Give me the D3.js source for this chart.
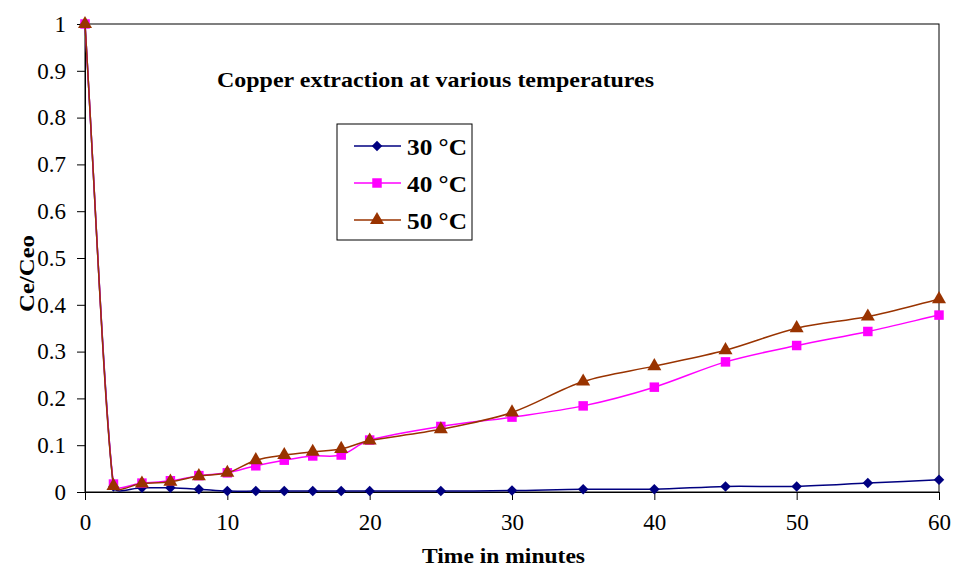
<!DOCTYPE html>
<html>
<head>
<meta charset="utf-8">
<script src="https://cdn.jsdelivr.net/npm/d3@7"></script>
<style>
  body { margin: 0; background: #fff; }
</style>
</head>
<body>
<script>
var width = 955,
    height = 570,
    serif = "'Liberation Serif', 'Times New Roman', serif";

// minutes
var times = [0, 2, 4, 6, 8, 10, 12, 14, 16, 18, 20, 25, 30, 35, 40, 45, 50, 55, 60];

// Ce/Ceo at each temperature
var t30 = [1, 0.012, 0.009, 0.009, 0.006, 0.002, 0.002, 0.002, 0.002, 0.002, 0.002, 0.002, 0.003, 0.006, 0.006, 0.012, 0.012, 0.019, 0.026];
var t40 = [1, 0.017, 0.019, 0.024, 0.035, 0.041, 0.056, 0.068, 0.077, 0.079, 0.111, 0.140, 0.160, 0.184, 0.224, 0.278, 0.313, 0.343, 0.378];
var t50 = [1, 0.013, 0.018, 0.022, 0.034, 0.041, 0.068, 0.079, 0.086, 0.092, 0.110, 0.134, 0.170, 0.236, 0.269, 0.303, 0.350, 0.375, 0.412];

var xTicks = [0, 10, 20, 30, 40, 50, 60];
var yTicks = [0, 0.1, 0.2, 0.3, 0.4, 0.5, 0.6, 0.7, 0.8, 0.9, 1];

var series = [
  { name: "30 \u00b0C", values: t30, color: "#000080", marker: d3.symbolSquare, size: 55, rot: 45 },
  { name: "40 \u00b0C", values: t40, color: "#ff00ff", marker: d3.symbolSquare, size: 90, rot: 0 },
  { name: "50 \u00b0C", values: t50, color: "#993300", marker: d3.symbolTriangle, size: 85, rot: 0 }
];

var pLeft = 85, pRight = 939, pTop = 24, pBottom = 492;

var x = d3.scaleLinear().domain([0, 60]).range([pLeft, pRight]);
var y = d3.scaleLinear().domain([0, 1]).range([pBottom, pTop]);

var svg = d3.select("body").append("svg")
    .attr("width", width)
    .attr("height", height);

// plot frame
svg.append("rect")
    .attr("x", pLeft)
    .attr("y", pTop)
    .attr("width", pRight - pLeft)
    .attr("height", pBottom - pTop)
    .attr("fill", "none")
    .attr("stroke", "#000")
    .attr("stroke-width", 1);

svg.append("g")
    .attr("transform", "translate(" + pLeft + ",0)")
    .call(d3.axisLeft(y).tickValues(yTicks).tickSize(8).tickPadding(11)
      .tickFormat(function(d) { return d === 0 || d === 1 ? d3.format("d")(d) : d3.format(".1f")(d); }));

svg.append("g")
    .attr("transform", "translate(0," + pBottom + ")")
    .call(d3.axisBottom(x).tickValues(xTicks).tickSize(8).tickPadding(14));

svg.selectAll(".tick text")
    .style("font-family", serif)
    .style("font-size", "23px")
    .attr("fill", "#000");
svg.selectAll(".domain, .tick line").attr("stroke", "#000");

// spreadsheet-style smoothed line: Catmull-Rom tangents, capped by segment length
function smooth(pts) {
  var n = pts.length, p = d3.path();
  function tan(i) {
    var a = pts[Math.max(i - 1, 0)], b = pts[Math.min(i + 1, n - 1)];
    var f = (i === 0 || i === n - 1) ? 1 / 3 : 1 / 6;
    return [(b[0] - a[0]) * f, (b[1] - a[1]) * f];
  }
  function cap(t, len) {
    var m = Math.hypot(t[0], t[1]), lim = len / 3;
    return m > lim ? [t[0] * lim / m, t[1] * lim / m] : t;
  }
  p.moveTo(pts[0][0], pts[0][1]);
  for (var i = 0; i < n - 1; i++) {
    var a = pts[i], b = pts[i + 1];
    var len = Math.hypot(b[0] - a[0], b[1] - a[1]);
    var t1 = cap(tan(i), len), t2 = cap(tan(i + 1), len);
    p.bezierCurveTo(a[0] + t1[0], a[1] + t1[1], b[0] - t2[0], b[1] - t2[1], b[0], b[1]);
  }
  return p.toString();
}

series.forEach(function(s) {
  var pts = times.map(function(t, i) { return [x(t), y(s.values[i])]; });
  svg.append("path")
      .attr("d", smooth(pts))
      .attr("fill", "none")
      .attr("stroke", s.color)
      .attr("stroke-width", 1.5);
  svg.append("g").selectAll("path")
      .data(times.map(function(t, i) { return [t, s.values[i]]; }))
      .enter().append("path")
      .attr("transform", function(d) { return "translate(" + x(d[0]) + "," + y(d[1]) + ") rotate(" + s.rot + ")"; })
      .attr("d", d3.symbol().type(s.marker).size(s.size))
      .attr("fill", s.color);
});

// title
svg.append("text")
    .attr("x", 217)
    .attr("y", 87)
    .style("font-family", serif)
    .style("font-size", "21px")
    .style("font-weight", "bold")
    .attr("textLength", 437)
    .attr("lengthAdjust", "spacingAndGlyphs")
    .text("Copper extraction at various temperatures");

// axis titles
svg.append("text")
    .attr("x", 422)
    .attr("y", 563)
    .style("font-family", serif)
    .style("font-size", "22px")
    .style("font-weight", "bold")
    .attr("textLength", 163)
    .attr("lengthAdjust", "spacingAndGlyphs")
    .text("Time in minutes");

svg.append("text")
    .attr("transform", "translate(34,312) rotate(-90)")
    .style("font-family", serif)
    .style("font-size", "22px")
    .style("font-weight", "bold")
    .attr("textLength", 77)
    .attr("lengthAdjust", "spacingAndGlyphs")
    .text("Ce/Ceo");

// legend
var legend = svg.append("g").attr("transform", "translate(337,124)");
legend.append("rect")
    .attr("width", 135)
    .attr("height", 116)
    .attr("fill", "#fff")
    .attr("stroke", "#000");

var item = legend.selectAll(".item")
    .data(series)
    .enter().append("g")
    .attr("transform", function(d, i) { return "translate(0," + (22 + i * 37) + ")"; });

item.append("line")
    .attr("x1", 17).attr("x2", 64)
    .attr("stroke", function(d) { return d.color; })
    .attr("stroke-width", 1.5);
item.append("path")
    .attr("transform", function(d) { return "translate(40,0) rotate(" + d.rot + ")"; })
    .attr("d", function(d) { return d3.symbol().type(d.marker).size(d.size)(); })
    .attr("fill", function(d) { return d.color; });
item.append("text")
    .attr("x", 70)
    .attr("y", 9)
    .style("font-family", serif)
    .style("font-size", "24px")
    .style("font-weight", "bold")
    .attr("textLength", 60)
    .attr("lengthAdjust", "spacingAndGlyphs")
    .text(function(d) { return d.name; });
</script>
</body>
</html>
